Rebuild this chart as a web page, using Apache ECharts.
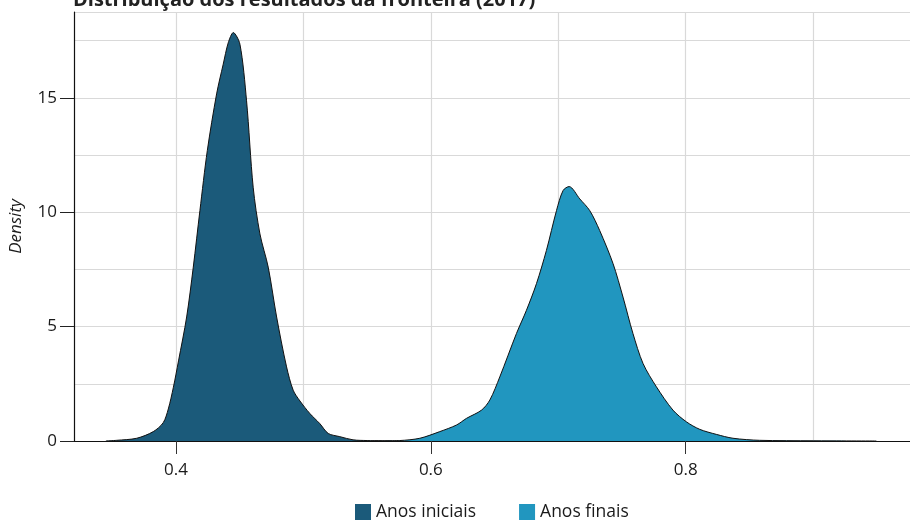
<!DOCTYPE html>
<html>
<head>
<meta charset="utf-8">
<script src="https://cdn.jsdelivr.net/npm/echarts@6/dist/echarts.min.js"></script>
<style>html,body{margin:0;padding:0;background:#fff}#c{width:910px;height:523px}</style>
</head>
<body>
<div id="c"></div>
<script>
var titleText = 'Distribuição dos resultados da fronteira (2017)';
var seriesNames = ['Anos iniciais', 'Anos finais'];
var xTickLabels = [0.4, 0.6, 0.8];
var yTickLabels = [0, 5, 10, 15];

var iniciaisX = [0.345, 0.3535, 0.3692, 0.3822, 0.390, 0.394, 0.398, 0.402, 0.4084, 0.4136, 0.4188, 0.4246, 0.4319, 0.4371, 0.441, 0.445, 0.4502, 0.4554, 0.4606, 0.4659, 0.4724, 0.479, 0.4868, 0.492, 0.4973, 0.5051, 0.5129, 0.5195, 0.5286, 0.539, 0.550, 0.562, 0.575];
var iniciaisY = [0, 0.03, 0.12, 0.41, 0.8, 1.4, 2.35, 3.5, 5.42, 7.6, 10.07, 12.69, 15.17, 16.47, 17.4, 17.85, 17.34, 14.87, 11.09, 9.05, 7.6, 5.42, 3.24, 2.22, 1.75, 1.2, 0.76, 0.33, 0.19, 0.05, 0.02, 0.01, 0];

var finaisX = [0.555, 0.5757, 0.5914, 0.607, 0.6202, 0.628, 0.6398, 0.6463, 0.6541, 0.6672, 0.675, 0.6829, 0.6907, 0.6986, 0.7038, 0.7085, 0.7169, 0.7247, 0.7325, 0.743, 0.7508, 0.7586, 0.7665, 0.777, 0.79, 0.8005, 0.811, 0.824, 0.8371, 0.858, 0.90, 0.9496];
var finaisY = [0, 0.02, 0.12, 0.41, 0.7, 0.99, 1.35, 1.79, 2.8, 4.7, 5.71, 6.88, 8.33, 10.07, 10.95, 11.12, 10.58, 10.07, 9.2, 7.75, 6.29, 4.7, 3.39, 2.37, 1.35, 0.84, 0.51, 0.29, 0.12, 0.03, 0.01, 0];

var colors = ['#1b5a7a', '#2196bf'];

function pairs(xs, ys) { return xs.map(function (x, i) { return [x, ys[i]]; }); }

var font = '"Open Sans", "Noto Sans", sans-serif';
var textColor = '#1a1a1a';
var gridColor = '#d9d9d9';
var chart = echarts.init(document.getElementById('c'), null, { renderer: 'canvas' });
chart.setOption({
  animation: false,
  backgroundColor: '#fff',
  title: {
    text: titleText, left: 68, top: -15,
    textStyle: { fontFamily: font, fontSize: 20, fontWeight: 'bold', color: '#222' }
  },
  legend: {
    left: 350, bottom: -3, icon: 'rect', itemWidth: 16, itemHeight: 16, itemGap: 43,
    textStyle: { fontFamily: font, fontSize: 17.5, color: textColor },
    data: [
      { name: seriesNames[0], itemStyle: { color: colors[0], borderWidth: 0 } },
      { name: seriesNames[1], itemStyle: { color: colors[1], borderWidth: 0 } }
    ]
  },
  grid: { left: 74, right: 0, top: 12, bottom: 82, containLabel: false },
  xAxis: [
    {
      type: 'value', min: 0.32, max: 0.976, z: 5,
      axisLine: { show: true, lineStyle: { color: '#111', width: 1.2 } },
      axisTick: { show: true, length: 13, customValues: xTickLabels, lineStyle: { color: '#333' } },
      axisLabel: { customValues: xTickLabels, margin: 21, fontFamily: font, fontSize: 17, color: textColor,
        formatter: function (v) { return v.toFixed(1); } },
      splitLine: { show: false }
    },
    {
      type: 'value', min: 0.32, max: 0.976, position: 'bottom',
      axisLine: { show: false }, axisTick: { show: false }, axisLabel: { show: false },
      splitLine: { show: true, showMinLine: false, showMaxLine: false, lineStyle: { color: gridColor, width: 1.2 } }
    }
  ],
  yAxis: [
    {
      type: 'value', min: 0, max: 18.75, z: 5,
      name: 'Density', nameLocation: 'middle', nameGap: 49, nameRotate: 90,
      nameTextStyle: { fontFamily: font, fontSize: 17, fontStyle: 'italic', color: textColor },
      axisLine: { show: true, lineStyle: { color: '#111', width: 1.2 } },
      axisTick: { show: true, length: 14, customValues: yTickLabels, lineStyle: { color: '#222' } },
      axisLabel: { customValues: yTickLabels, margin: 17, fontFamily: font, fontSize: 17, color: textColor },
      splitLine: { show: false }
    },
    {
      type: 'value', min: 0, max: 18.75, interval: 2.5, position: 'left',
      axisLine: { show: false }, axisTick: { show: false }, axisLabel: { show: false },
      splitLine: { show: true, showMinLine: false, lineStyle: { color: gridColor, width: 1.2 } }
    }
  ],
  series: [
    {
      name: seriesNames[0], type: 'line', data: pairs(iniciaisX, iniciaisY),
      xAxisIndex: 0, yAxisIndex: 0,
      smooth: 0.3, symbol: 'none', color: colors[0],
      lineStyle: { color: '#111', width: 1 },
      areaStyle: { color: colors[0], opacity: 1 }
    },
    {
      name: seriesNames[1], type: 'line', data: pairs(finaisX, finaisY),
      xAxisIndex: 0, yAxisIndex: 0,
      smooth: 0.3, symbol: 'none', color: colors[1],
      lineStyle: { color: '#111', width: 1 },
      areaStyle: { color: colors[1], opacity: 1 }
    }
  ]
});
</script>
</body>
</html>
